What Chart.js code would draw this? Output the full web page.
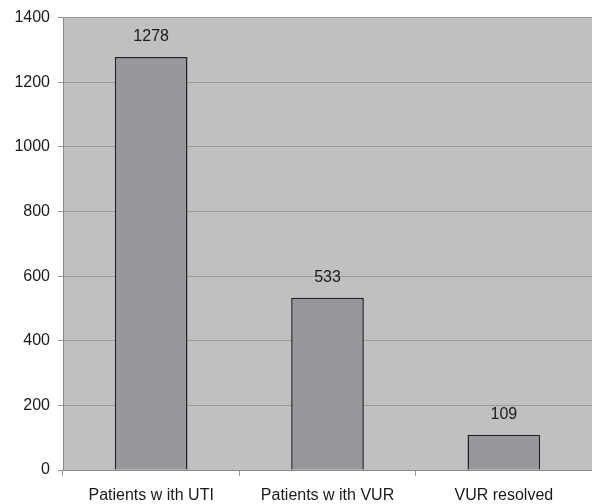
<!DOCTYPE html>
<html><head><meta charset="utf-8">
<script src="https://cdn.jsdelivr.net/npm/chart.js@4"></script>
<style>html,body{margin:0;padding:0;background:#fff;overflow:hidden}#wrap{width:592px;height:504px}</style>
</head><body><div id="wrap"><canvas id="c"></canvas></div>
<script>
const categories = ["Patients w ith UTI", "Patients w ith VUR", "VUR resolved"];
const values = [1278, 533, 109];
const yTicks = [0, 200, 400, 600, 800, 1000, 1200, 1400];
const FONT = '"Liberation Sans", Arial, sans-serif';

const bgPlugin = {
  id: 'bg',
  beforeDraw(chart) {
    const {ctx, chartArea: a} = chart;
    ctx.save();
    ctx.fillStyle = '#c0c0c3';
    ctx.fillRect(a.left, a.top, a.right - a.left, a.bottom - a.top);
    ctx.restore();
  },
  afterDatasetsDraw(chart) {
    const {ctx} = chart;
    const meta = chart.getDatasetMeta(0);
    ctx.save();
    ctx.font = '16px ' + FONT;
    ctx.fillStyle = '#1a1a1a';
    ctx.textAlign = 'center';
    ctx.textBaseline = 'middle';
    meta.data.forEach((bar, i) => {
      ctx.fillText(String(values[i]), bar.x, bar.y - 20);
    });
    ctx.restore();
  }
};

new Chart(document.getElementById('c'), {
  type: 'bar',
  data: {
    labels: categories,
    datasets: [{
      data: values,
      backgroundColor: '#98989c',
      borderColor: '#222',
      borderWidth: 1.5,
      categoryPercentage: 1,
      barPercentage: 0.412
    }]
  },
  options: {
    responsive: true,
    maintainAspectRatio: false,
    animation: false,
    layout: {padding: {top: 16, right: 0, left: 0, bottom: 0}},
    plugins: {legend: {display: false}, tooltip: {enabled: false}},
    scales: {
      x: {
        afterFit(s) { s.height = 34; },
        grid: {offset: true, drawOnChartArea: false, drawTicks: true, tickLength: 6, color: '#9a9a9a'},
        border: {color: '#8a8a8a', width: 1},
        ticks: {color: '#1a1a1a', font: {size: 16, family: FONT, lineHeight: 1}, padding: 12, maxRotation: 0, autoSkip: false}
      },
      y: {
        min: 0, max: 1400,
        afterFit(s) { s.width = 63; },
        afterBuildTicks(s) { s.ticks = yTicks.map(v => ({value: v})); },
        grid: {color: '#9a9a9a', tickLength: 5, drawTicks: true},
        border: {color: '#8a8a8a', width: 1},
        ticks: {color: '#1a1a1a', font: {size: 16, family: FONT}, padding: 8, callback: v => String(v)}
      }
    }
  },
  plugins: [bgPlugin]
});
</script></body></html>
